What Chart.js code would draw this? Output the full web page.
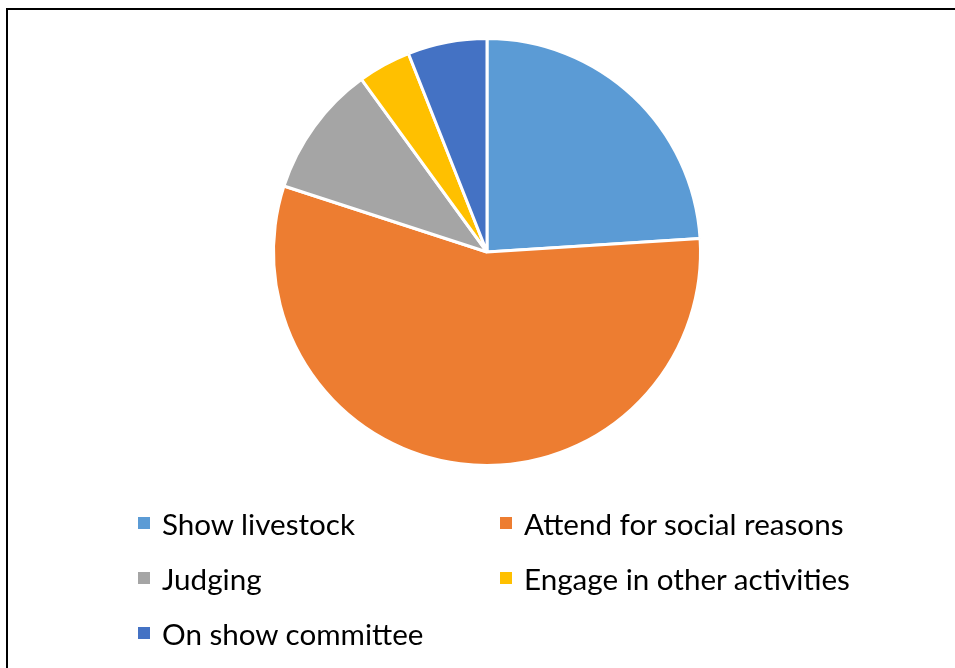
<!DOCTYPE html>
<html>
<head>
<meta charset="utf-8">
<script src="https://cdn.jsdelivr.net/npm/chart.js@4.4.0/dist/chart.umd.min.js"></script>
<style>
  html, body { margin: 0; padding: 0; background: #fff; overflow: hidden; }
  #wrap { position: relative; width: 955px; height: 668px; }
  #frame { position: absolute; left: 6px; top: 8px; width: 1000px; height: 700px; border: 2px solid #000; box-sizing: border-box; }
  #pie { position: absolute; left: 0; top: 0; }
  #legend { position: absolute; left: 138px; top: 505px; font-family: Lato, "Open Sans", sans-serif; font-size: 29.6px; color: #000; }
  #legend ul { list-style: none; margin: 0; padding: 0; display: grid; grid-template-columns: 362px 360px; grid-auto-rows: 55px; }
  #legend li { display: flex; align-items: center; height: 36px; white-space: nowrap; }
  #legend .box { display: inline-block; width: 12px; height: 12px; margin-right: 12px; flex: none; }
</style>
</head>
<body>
<div id="wrap">
  <div id="frame"></div>
  <canvas id="pie" width="955" height="668"></canvas>
  <div id="legend"></div>
</div>
<script>
const labels=['Show livestock','Attend for social reasons','Judging','Engage in other activities','On show committee'];
const values=[24,56,10,4,6];
const colors=['#5B9BD5','#ED7D31','#A5A5A5','#FFC000','#4472C4'];

//builds the two column legend out of the chart's own legend items
const htmlLegend={
    id:'htmlLegend',
    afterUpdate(chart){
        const box=document.getElementById('legend');
        box.innerHTML='';
        const ul=document.createElement('ul');
        chart.options.plugins.legend.labels.generateLabels(chart).forEach(item=>{
            const li=document.createElement('li');
            const sw=document.createElement('span');
            sw.className='box';
            sw.style.background=item.fillStyle;
            const txt=document.createElement('span');
            txt.textContent=item.text;
            li.appendChild(sw);
            li.appendChild(txt);
            ul.appendChild(li);
        });
        box.appendChild(ul);
    }
};

const ctx=document.getElementById('pie').getContext('2d');
new Chart(ctx,{
    type:'pie',
    data:{
        labels:labels,
        datasets:[{
            data:values,
            backgroundColor:colors,
            borderColor:'#fff',
            borderWidth:3
        }]
    },
    options:{
        responsive:false,
        animation:false,
        layout:{
            padding:{left:272,top:37,right:253,bottom:201}
        },
        plugins:{
            legend:{display:false},
            tooltip:{enabled:false}
        }
    },
    plugins:[htmlLegend]
});
</script>
</body>
</html>
